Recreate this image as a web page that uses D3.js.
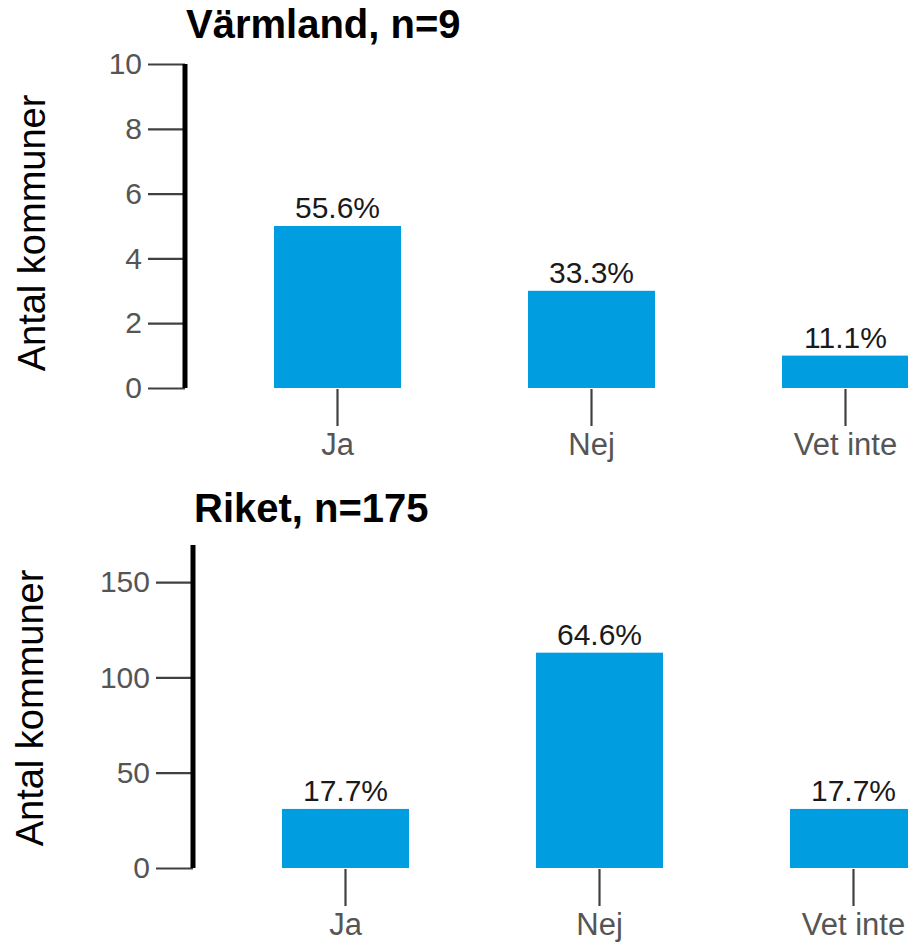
<!DOCTYPE html>
<html>
<head>
<meta charset="utf-8">
<script src="https://cdn.jsdelivr.net/npm/d3@7"></script>
<style>
  html, body { margin: 0; padding: 0; background: #fff; }
  svg { display: block; font-family: "Liberation Sans", Arial, Helvetica, sans-serif; }
</style>
</head>
<body>
<svg id="chart" width="908" height="944"></svg>
<script>
// ---- data ----
const categories = ["Ja", "Nej", "Vet inte"];
const varmlandTitle = "Värmland, n=9";
const varmlandCounts = [5, 3, 1];
const varmlandPct = ["55.6%", "33.3%", "11.1%"];
const varmlandTicks = [0, 2, 4, 6, 8, 10];
const varmlandMax = 10;

const riketTitle = "Riket, n=175";
const riketCounts = [31, 113, 31];
const riketPct = ["17.7%", "64.6%", "17.7%"];
const riketTicks = [0, 50, 100, 150];
const riketMax = 169.5;

const yAxisTitle = "Antal kommuner";

// ---- drawing ----
const svg = d3.select("#chart");
const barColor = "#009ee0";

function panel(opt) {
  const g = svg.append("g");
  const x = d3.scaleBand()
    .domain(categories)
    .range([opt.axisX + 25.5, opt.axisX + 25.5 + 762])
    .paddingInner(0.5)
    .paddingOuter(0.25);
  const y = d3.scaleLinear()
    .domain([0, opt.max])
    .range([opt.bottom, opt.top]);

  // bars
  g.selectAll("rect.bar")
    .data(opt.counts)
    .join("rect")
    .attr("class", "bar")
    .attr("x", (d, i) => x(categories[i]))
    .attr("width", x.bandwidth())
    .attr("y", d => y(d))
    .attr("height", d => y(0) - y(d))
    .attr("fill", barColor);

  // percentage labels
  g.selectAll("text.pct")
    .data(opt.counts)
    .join("text")
    .attr("class", "pct")
    .attr("x", (d, i) => x(categories[i]) + x.bandwidth() / 2)
    .attr("y", d => y(d) - 8)
    .attr("text-anchor", "middle")
    .attr("font-size", 30)
    .attr("fill", "#1a1a1a")
    .text((d, i) => opt.pct[i]);

  // y axis
  const ya = g.append("g")
    .attr("transform", `translate(${opt.axisX},0)`)
    .call(d3.axisLeft(y).tickValues(opt.ticks).tickSize(37).tickPadding(6).tickFormat(d3.format("d")));
  ya.select(".domain").remove();
  ya.selectAll(".tick line").attr("stroke", "#404040").attr("stroke-width", 2.2);
  ya.selectAll(".tick text").attr("fill", "#555").attr("font-size", 30)
    .attr("font-family", "Liberation Sans, Arial, sans-serif");
  g.append("line")
    .attr("x1", opt.axisX).attr("x2", opt.axisX)
    .attr("y1", opt.lineTop).attr("y2", opt.bottom)
    .attr("stroke", "#000").attr("stroke-width", 5);

  // x axis (ticks only)
  const xa = g.append("g")
    .attr("transform", `translate(0,${opt.bottom + 1})`)
    .call(d3.axisBottom(x).tickSize(37).tickPadding(7));
  xa.select(".domain").remove();
  xa.selectAll(".tick line").attr("stroke", "#404040").attr("stroke-width", 2.2);
  xa.selectAll(".tick text").attr("fill", "#555").attr("font-size", 31)
    .attr("font-family", "Liberation Sans, Arial, sans-serif");

  // title
  g.append("text")
    .attr("x", opt.axisX + 1)
    .attr("y", opt.titleY)
    .attr("font-size", 40)
    .attr("font-weight", "bold")
    .attr("fill", "#000")
    .text(opt.title);

  // y axis title
  g.append("text")
    .attr("transform", `translate(${opt.yTitleX},${opt.yTitleY}) rotate(-90)`)
    .attr("text-anchor", "middle")
    .attr("font-size", 38)
    .attr("fill", "#000")
    .text(yAxisTitle);
}

panel({
  title: varmlandTitle, counts: varmlandCounts, pct: varmlandPct,
  ticks: varmlandTicks, max: varmlandMax,
  axisX: 185, top: 64, bottom: 388, lineTop: 64, titleY: 38,
  yTitleX: 45, yTitleY: 233
});

panel({
  title: riketTitle, counts: riketCounts, pct: riketPct,
  ticks: riketTicks, max: riketMax,
  axisX: 193, top: 545, bottom: 868, lineTop: 545, titleY: 522,
  yTitleX: 43, yTitleY: 708
});
</script>
</body>
</html>
